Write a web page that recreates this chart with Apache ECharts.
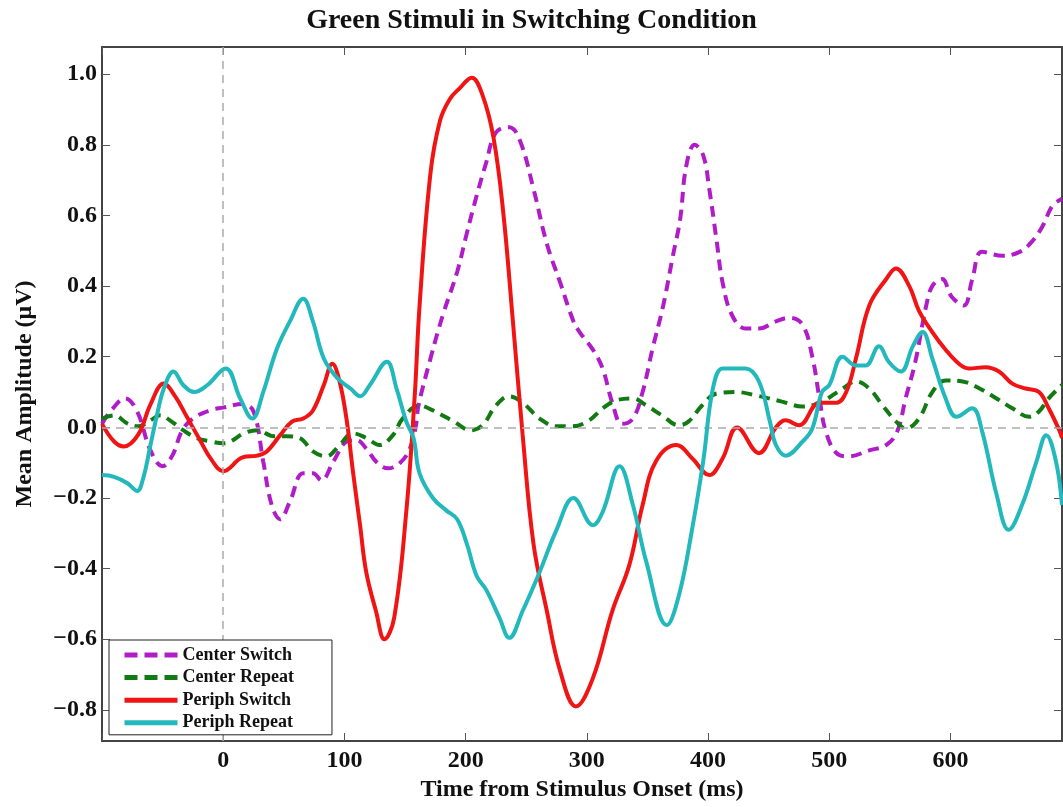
<!DOCTYPE html>
<html><head><meta charset="utf-8">
<script src="https://cdn.jsdelivr.net/npm/echarts@6/dist/echarts.min.js"></script>
<style>html,body{margin:0;padding:0;background:#fff}#c{width:1063px;height:807px}</style>
</head><body><div id="c"></div>
<script>
const chartTitle = 'Green Stimuli in Switching Condition';
const xName = 'Time from Stimulus Onset (ms)';
const yName = 'Mean Amplitude (\u03bcV)';
const seriesNames = ['Center Switch', 'Center Repeat', 'Periph Switch', 'Periph Repeat'];
const xTicks = [-100, 0, 100, 200, 300, 400, 500, 600];
const xLabels = [0, 100, 200, 300, 400, 500, 600];
const yTicks = [-0.8, -0.6, -0.4, -0.2, 0, 0.2, 0.4, 0.6, 0.8, 1.0];
const xRange = [-100, 692];
const yRange = [-0.888, 1.077];

// Center Switch
const csT = [-100,-93,-81,-71,-60,-50,-42,-34,-25,-11,0,16,25,33,40,47,55,66,74,81,91,102,110,118,127,136,146,154,159,161,171,181,193,201,209,217,225,236,245,256,267,278,289,294,305,313,321,329,338,346,354,363,371,377,382,389,396,401,407,412,420,431,442,456,467,478,486,492,497,506,516,533,547,556,563,571,580,585,593,601,611,618,626,643,657,667,676,684,692];
const csV = [0.01,0.045,0.082,0.045,-0.065,-0.11,-0.08,-0.01,0.025,0.048,0.056,0.066,0.045,-0.096,-0.22,-0.26,-0.21,-0.13,-0.13,-0.15,-0.096,-0.04,-0.036,-0.06,-0.10,-0.116,-0.10,-0.06,0.006,0.06,0.195,0.316,0.44,0.55,0.655,0.75,0.835,0.85,0.81,0.675,0.52,0.41,0.30,0.27,0.22,0.167,0.07,0.01,0.025,0.10,0.22,0.345,0.486,0.59,0.74,0.80,0.77,0.675,0.53,0.41,0.316,0.28,0.28,0.30,0.31,0.29,0.20,0.08,-0.01,-0.073,-0.082,-0.065,-0.05,-0.012,0.082,0.186,0.345,0.40,0.42,0.37,0.345,0.42,0.497,0.486,0.497,0.525,0.57,0.627,0.647];

// Center Repeat
const crT = [-100,-90,-79,-70,-60,-52,-44,-33,-22,-10,0,6,17,28,42,52,63,74,85,96,107,118,129,140,148,162,173,190,204,214,225,236,247,261,275,288,302,313,324,338,349,362,376,384,395,407,423,440,461,478,494,511,522,533,544,555,563,574,585,596,610,624,638,651,665,673,681,692];
const crV = [0.025,0.034,0.011,0.003,0.02,0.034,0.02,-0.008,-0.03,-0.04,-0.045,-0.04,-0.017,-0.008,-0.025,-0.025,-0.03,-0.068,-0.082,-0.05,-0.017,-0.03,-0.05,-0.022,0.025,0.062,0.048,0.017,-0.008,0.006,0.062,0.088,0.07,0.025,0.003,0.003,0.02,0.054,0.076,0.082,0.062,0.034,0.006,0.017,0.062,0.096,0.10,0.09,0.073,0.059,0.073,0.11,0.13,0.11,0.062,0.017,-0.003,0.025,0.10,0.133,0.13,0.11,0.082,0.054,0.03,0.045,0.082,0.12];

// Periph Switch
const psT = [-100,-90,-82,-70,-60,-49,-40,-30,-19,-10,0,16,28,36,47,57,66,74,83,90,96,102,107,113,118,126,133,141,151,158,162,171,179,187,195,205,214,223,231,239,247,256,267,278,291,305,321,335,346,357,374,387,401,412,424,442,456,464,475,492,506,514,522,533,547,555,566,574,585,596,607,615,629,640,651,662,673,681,690,692];
const psV = [0.01,-0.04,-0.054,-0.02,0.065,0.124,0.09,0.03,-0.037,-0.09,-0.124,-0.085,-0.08,-0.068,-0.022,0.017,0.025,0.048,0.12,0.18,0.13,0.017,-0.124,-0.28,-0.41,-0.52,-0.60,-0.54,-0.24,0.09,0.345,0.72,0.87,0.93,0.96,0.99,0.94,0.82,0.61,0.30,-0.02,-0.33,-0.52,-0.69,-0.79,-0.71,-0.52,-0.39,-0.22,-0.096,-0.05,-0.088,-0.135,-0.088,0.0,-0.073,0.0,0.02,0.006,0.07,0.07,0.10,0.195,0.345,0.42,0.45,0.40,0.33,0.27,0.22,0.18,0.167,0.17,0.158,0.124,0.11,0.10,0.054,-0.01,-0.03];

// Periph Repeat
const prT = [-100,-90,-79,-71,-66,-60,-54,-49,-41,-33,-24,-13,2,14,24,33,44,55,66,74,83,94,105,113,121,135,143,151,157,162,173,184,193,201,209,217,228,236,247,261,275,289,305,313,327,338,349,366,376,387,396,404,412,423,431,442,451,456,464,478,486,494,500,511,522,530,541,549,559,569,577,585,596,605,618,626,638,648,659,671,679,687,692];
const prV = [-0.135,-0.14,-0.158,-0.18,-0.144,-0.05,0.045,0.11,0.158,0.12,0.10,0.12,0.167,0.082,0.025,0.10,0.22,0.30,0.364,0.30,0.195,0.14,0.11,0.088,0.12,0.186,0.11,0.017,-0.03,-0.13,-0.20,-0.235,-0.26,-0.33,-0.42,-0.46,-0.54,-0.596,-0.52,-0.41,-0.29,-0.20,-0.277,-0.24,-0.11,-0.22,-0.38,-0.56,-0.475,-0.285,-0.096,0.11,0.167,0.167,0.167,0.13,0.017,-0.05,-0.08,-0.04,-0.003,0.10,0.12,0.20,0.175,0.175,0.23,0.186,0.158,0.23,0.27,0.195,0.082,0.03,0.054,-0.01,-0.19,-0.29,-0.22,-0.096,-0.022,-0.096,-0.22];

const colors = ['#b01cc8', '#127a12', '#f01414', '#22b8bc'];
const FONT = 'Liberation Serif';

function pairs(t, v) { return t.map((x, i) => [x, v[i]]); }
const fmtY = v => { const s = Math.abs(v).toFixed(1); return v < -1e-9 ? '\u2212' + s : s; };

const axisLineStyle = { color: '#444', width: 2 };
const tickStyle = { color: '#555', width: 1 };

const chart = echarts.init(document.getElementById('c'), null, { renderer: 'canvas' });
const dataSets = [pairs(csT, csV), pairs(crT, crV), pairs(psT, psV), pairs(prT, prV)];
const dashed = [true, true, false, false];

const series = [{
  type: 'line', name: '_zero', data: [], z: 1, silent: true,
  markLine: {
    silent: true, symbol: ['none', 'none'], label: { show: false },
    lineStyle: { color: '#aaaaaa', type: [8, 6], width: 1.5 },
    animation: false,
    data: [{ yAxis: 0 }, { xAxis: 0 }]
  }
}];
seriesNames.forEach((n, i) => {
  series.push({
    type: 'line', name: n, data: dataSets[i], xAxisIndex: 0, yAxisIndex: 0,
    showSymbol: false, symbol: 'none', smooth: 0.4, z: 2 + i,
    lineStyle: { color: colors[i], width: 4, type: dashed[i] ? [11, 7] : 'solid' },
    itemStyle: { color: colors[i] },
    animation: false
  });
});

const legendData = seriesNames.map((n, i) => ({
  name: n,
  lineStyle: { color: colors[i], width: 5, type: dashed[i] ? [13, 7] : 'solid' },
  itemStyle: { opacity: 0 }
}));

chart.setOption({
  backgroundColor: '#fff',
  animation: false,
  title: {
    text: chartTitle, left: 'center', top: 2,
    textStyle: { fontFamily: FONT, fontWeight: 'bold', fontSize: 28, color: '#111' }
  },
  grid: { left: 102, right: 1, top: 47, bottom: 64, containLabel: false },
  legend: {
    data: legendData, orient: 'vertical', left: 109, top: 640,
    itemWidth: 53, itemHeight: 14, itemGap: 4.6,
    padding: [6, 38, 3, 13],
    borderColor: '#222', borderWidth: 1, backgroundColor: '#fff',
    itemStyle: { opacity: 0 },
    textStyle: { fontFamily: FONT, fontWeight: 'bold', fontSize: 18, color: '#111' },
    z: 10
  },
  xAxis: [{
    type: 'value', position: 'bottom', min: xRange[0], max: xRange[1],
    name: xName, nameLocation: 'middle', nameGap: 37,
    nameTextStyle: { fontFamily: FONT, fontWeight: 'bold', fontSize: 24, color: '#111' },
    axisLine: { show: true, onZero: false, lineStyle: axisLineStyle },
    axisTick: { show: true, inside: true, length: 8, customValues: xTicks, lineStyle: tickStyle },
    axisLabel: { customValues: xLabels, fontFamily: FONT, fontWeight: 'bold', fontSize: 24, color: '#111', margin: 8 },
    splitLine: { show: false }
  }, {
    type: 'value', position: 'top', min: xRange[0], max: xRange[1],
    axisLine: { show: true, onZero: false, lineStyle: axisLineStyle },
    axisTick: { show: true, inside: true, length: 8, customValues: xTicks, lineStyle: tickStyle },
    axisLabel: { show: false }, splitLine: { show: false }
  }],
  yAxis: [{
    type: 'value', position: 'left', min: yRange[0], max: yRange[1],
    name: yName, nameLocation: 'middle', nameGap: 65, nameRotate: 90,
    nameTextStyle: { fontFamily: FONT, fontWeight: 'bold', fontSize: 24, color: '#111' },
    axisLine: { show: true, onZero: false, lineStyle: axisLineStyle },
    axisTick: { show: true, inside: true, length: 8, customValues: yTicks, lineStyle: tickStyle },
    axisLabel: { customValues: yTicks, formatter: fmtY, fontFamily: FONT, fontWeight: 'bold', fontSize: 24, color: '#111', margin: 5 },
    splitLine: { show: false }
  }, {
    type: 'value', position: 'right', min: yRange[0], max: yRange[1],
    axisLine: { show: true, onZero: false, lineStyle: axisLineStyle },
    axisTick: { show: true, inside: true, length: 8, customValues: yTicks, lineStyle: tickStyle },
    axisLabel: { show: false }, splitLine: { show: false }
  }],
  series: series
});
</script>
</body></html>
